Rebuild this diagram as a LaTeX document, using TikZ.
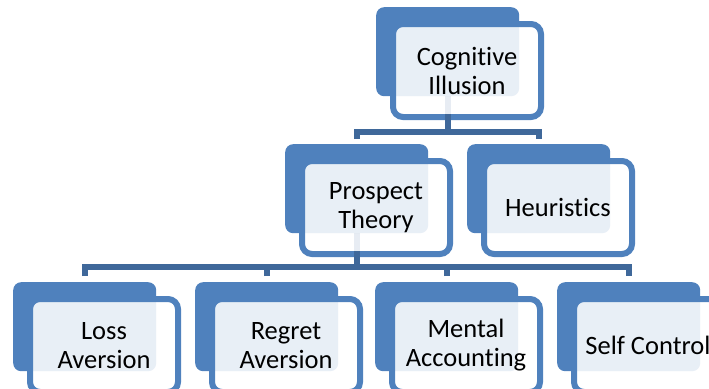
\documentclass[tikz,border=0pt]{standalone}
\usepackage{fontspec}
\setmainfont{Carlito}[Ligatures=NoCommon]
\usetikzlibrary{positioning}
\definecolor{boxblue}{RGB}{79,129,189}
\definecolor{linkblue}{RGB}{63,104,154}

\begin{document}
\begin{tikzpicture}[x=1pt,y=-1pt,
    backbox/.style={fill=boxblue,rounded corners=8pt,minimum width=143pt,
      minimum height=89pt,inner sep=0pt,anchor=north west},
    frontbox/.style={draw=boxblue,line width=6pt,fill=white,fill opacity=0.875,
      text opacity=1,rounded corners=10pt,minimum width=148pt,minimum height=93pt,
      inner sep=0pt,align=center,font=\fontsize{26.5}{29}\selectfont,anchor=north west},
    link/.style={draw=linkblue,line width=6pt}]
  \useasboundingbox (0,0) rectangle (709,388);
  % boxes: back shape, then the lighter front shape with the text
  \foreach \name/\x/\y/\txt in {cog/376/7/{Cognitive\\Illusion},
      pro/285/144/{Prospect\\Theory}, heu/467/144/{Heuristics},
      los/13/282/{Loss\\Aversion}, reg/195/282/{Regret\\Aversion},
      men/375/282/{Mental\\Accounting}, sel/557/282/{Self Control}} {
    \node[backbox] (\name b) at (\x,\y) {};
    \node[frontbox] (\name) at ([shift={(14,14)}]\name b.north west) {\txt};
  }
  % level 1 -> 2
  \coordinate (bar1) at ([yshift=-12pt]cog.south -| cogb.south);
  \draw[link,draw opacity=0.12] (cogb.south) -- ([yshift=6pt]cog.south -| cogb.south);
  \draw[link] ([yshift=6pt]cog.south -| cogb.south) -- (bar1);
  \draw[link] ([yshift=5pt]prob.north) |- (bar1) -| ([yshift=5pt]heub.north);
  % level 2 -> 3
  \coordinate (bar2) at ([yshift=-10pt]pro.south -| prob.south);
  \draw[link,draw opacity=0.12] (prob.south) -- ([yshift=6pt]pro.south -| prob.south);
  \draw[link] ([yshift=6pt]pro.south -| prob.south) -- (bar2);
  \draw[link] ([yshift=6pt]losb.north) |- (bar2) -| ([yshift=6pt]selb.north);
  \draw[link] ([yshift=6pt]regb.north) -- (regb.north |- bar2);
  \draw[link] ([yshift=6pt]menb.north) -- (menb.north |- bar2);
\end{tikzpicture}
\end{document}
